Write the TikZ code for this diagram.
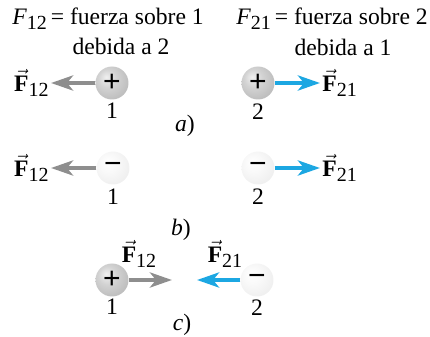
\documentclass[tikz,border=0pt]{standalone}
\usepackage{amsmath}
\usepackage{fontspec}
\setmainfont{Liberation Serif}
\setsansfont{Liberation Sans}
\usepackage{tikz}
\usetikzlibrary{arrows.meta}
\definecolor{cGrayArr}{HTML}{8E8E8E}
\definecolor{cBlueArr}{HTML}{1CA7E2}
\pgfdeclareradialshading{posball}{\pgfpoint{-9bp}{9bp}}{color(0bp)=(gray!12); color(14bp)=(gray!35); color(34bp)=(gray!55); color(50bp)=(gray!72); color(64bp)=(gray!82)}
\pgfdeclareradialshading{negball}{\pgfpoint{-9bp}{9bp}}{color(0bp)=(white); color(14bp)=(gray!5); color(34bp)=(gray!14); color(50bp)=(gray!30); color(64bp)=(gray!40)}
\newcommand{\subsz}{\fontsize{10}{11}\selectfont}
\newcommand{\vecF}[1]{$\vec{\text{\bfseries F}}$\raisebox{-0.45ex}{\subsz#1}}
\newcommand{\magF}[1]{\textit{F}\raisebox{-0.45ex}{\subsz#1}}

\begin{document}
\begin{tikzpicture}[x=0.5pt, y=-0.5pt, font=\rmfamily\fontsize{11.8}{14}\selectfont,
    posq/.style={circle, shade, shading=posball, minimum size=16.5pt, inner sep=0pt,
      font=\sffamily\fontsize{15}{15}\selectfont},
    negq/.style={posq, shading=negball},
    garrow/.style={draw=cGrayArr, line width=2pt, shorten >=1pt,
      -{Stealth[length=11pt, width=7.5pt, inset=3pt]}},
    barrow/.style={garrow, draw=cBlueArr}]
  \useasboundingbox (0,0) rectangle (430,337);
  \node (capL) at (108,19) {\magF{12}\,= fuerza sobre 1};
  \node (capLb) at (121,46) {debida a 2};
  \node (capR) at (332,19) {\magF{21}\,= fuerza sobre 2};
  \node (capRb) at (343,47) {debida a 1};

  \node[posq] (q1a) at (112,83) {+};
  \node[posq] (q2a) at (258,83) {+};
  \node[anchor=east, inner sep=0pt] (f12a) at (49,83) {\vecF{12}};
  \node[anchor=west, inner sep=0pt] (f21a) at (322,83) {\vecF{21}};
  \draw[garrow] (q1a.west) -- (q1a.west -| f12a.east);
  \draw[barrow] (q2a.east) -- (q2a.east -| f21a.west);
  \node (n1a) at (112,111) {1};
  \node (n2a) at (258,112) {2};
  \node (la) at (185,126) {\textit{a})};

  \node[negq] (q1b) at (113,168) {−};
  \node[negq] (q2b) at (258,168) {−};
  \node[anchor=east, inner sep=0pt] (f12b) at (49,168) {\vecF{12}};
  \node[anchor=west, inner sep=0pt] (f21b) at (322,168) {\vecF{21}};
  \draw[garrow] (q1b.west) -- (q1b.west -| f12b.east);
  \draw[barrow] (q2b.east) -- (q2b.east -| f21b.west);
  \node (n1b) at (113,197) {1};
  \node (n2b) at (258,197) {2};
  \node (lb) at (181,230) {\textit{b})};

  \node[posq] (q1c) at (112,280) {+};
  \node[negq] (q2c) at (257,280) {−};
  \coordinate (t12) at (174,280);
  \coordinate (t21) at (195,280);
  \draw[garrow] (q1c.east) -- (t12);
  \draw[barrow] (q2c.west) -- (t21);
  \node (f12c) at (139,254) {\vecF{12}};
  \node (f21c) at (225,254) {\vecF{21}};
  \node (n1c) at (112,307) {1};
  \node (n2c) at (257,308) {2};
  \node (lc) at (182,325) {\textit{c})};
\end{tikzpicture}
\end{document}
